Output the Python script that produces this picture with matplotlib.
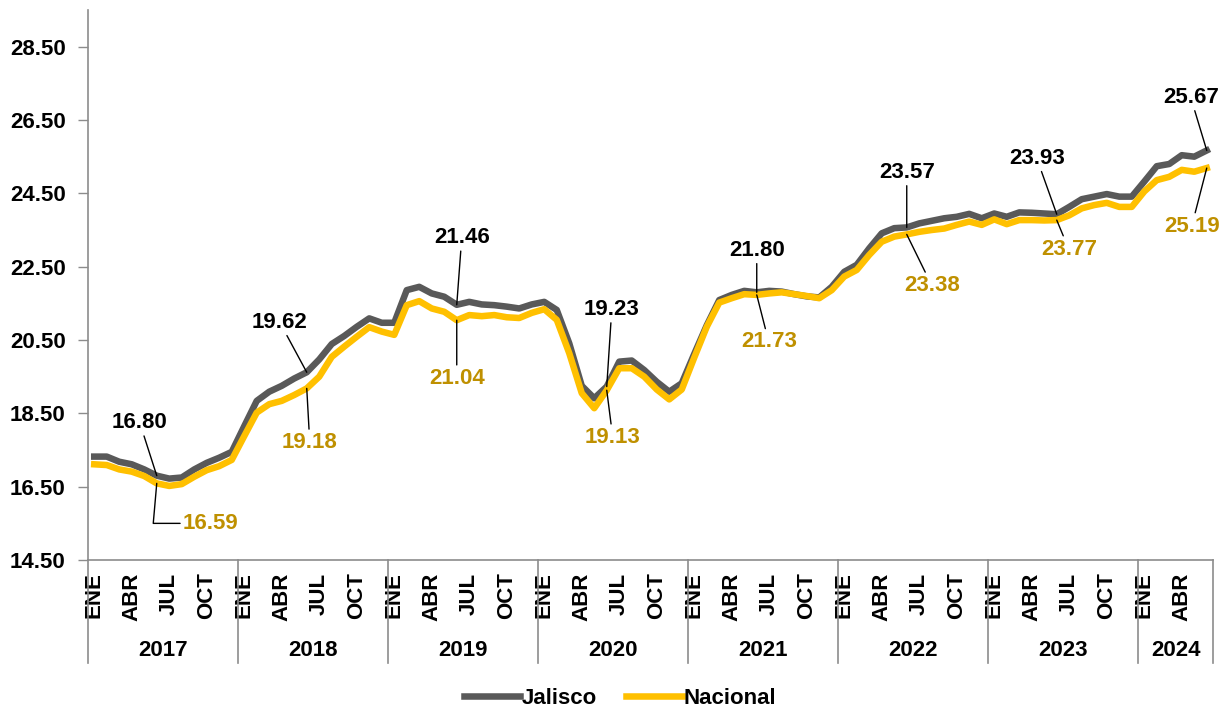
#! /usr/bin/env python3

import sys

import numpy as np
import matplotlib
matplotlib.use('Agg')
import matplotlib.pyplot as plt
import matplotlib.transforms as mtransforms

plt.rcParams['font.family'] = ['Liberation Sans', 'DejaVu Sans']
plt.rcParams['font.weight'] = 'bold'

# monthly series, ENE 2017 .. JUN 2024
years = ['2017', '2018', '2019', '2020', '2021', '2022', '2023', '2024']
month_names = ['ENE', 'ABR', 'JUL', 'OCT']

jalisco = [
	17.32, 17.32, 17.18, 17.11, 16.97, 16.80, 16.72, 16.75, 16.97, 17.15, 17.29, 17.45,
	18.15, 18.84, 19.09, 19.25, 19.45, 19.62, 19.97, 20.39, 20.61, 20.86, 21.09, 20.97,
	20.97, 21.86, 21.95, 21.77, 21.68, 21.46, 21.54, 21.47, 21.45, 21.41, 21.36, 21.47,
	21.54, 21.32, 20.41, 19.25, 18.91, 19.23, 19.91, 19.94, 19.68, 19.36, 19.09, 19.32,
	20.12, 20.90, 21.59, 21.73, 21.84, 21.80, 21.84, 21.82, 21.75, 21.69, 21.66, 21.95,
	22.36, 22.55, 23.00, 23.41, 23.55, 23.57, 23.68, 23.75, 23.82, 23.86, 23.94, 23.82,
	23.95, 23.86, 23.98, 23.97, 23.95, 23.93, 24.13, 24.34, 24.41, 24.48, 24.41, 24.41,
	24.82, 25.24, 25.30, 25.54, 25.50, 25.67,
]

nacional = [
	17.11, 17.09, 16.97, 16.91, 16.79, 16.59, 16.52, 16.57, 16.77, 16.95, 17.06, 17.23,
	17.88, 18.52, 18.75, 18.84, 19.00, 19.18, 19.50, 20.04, 20.32, 20.59, 20.85, 20.73,
	20.64, 21.45, 21.56, 21.36, 21.27, 21.04, 21.18, 21.15, 21.18, 21.12, 21.10, 21.24,
	21.34, 21.05, 20.14, 19.05, 18.64, 19.13, 19.73, 19.73, 19.50, 19.15, 18.88, 19.15,
	20.02, 20.86, 21.52, 21.64, 21.75, 21.73, 21.77, 21.80, 21.75, 21.70, 21.64, 21.86,
	22.23, 22.41, 22.82, 23.18, 23.32, 23.38, 23.45, 23.50, 23.54, 23.64, 23.73, 23.64,
	23.79, 23.66, 23.77, 23.77, 23.76, 23.77, 23.90, 24.09, 24.18, 24.24, 24.13, 24.13,
	24.55, 24.86, 24.95, 25.14, 25.09, 25.19,
]

# labelled points (june of each year) and label offsets in pixels
label_idx = [5, 17, 29, 41, 53, 65, 77, 89]
jal_offsets = [(-17, 53), (-27, 50), (5, 67), (5, 77), (0, 42), (0, 55), (-20, 56), (-16, 53)]
nac_offsets = [(54, -40), (3, -54), (0, -58), (6, -47), (12, -47), (25, -51), (12, -29), (-15, -58)]

GRAY = '#595959'
YELLOW = '#FFC000'
GOLD = '#BF9000'
AXIS = '#8C8C8C'
FS = 16


def main (argv):

	n = len(jalisco)
	x = np.arange(n)

	fig = plt.figure(figsize=(12.31, 7.11), dpi=100)
	ax = fig.add_axes([88 / 1231, 151 / 711, 1125 / 1231, 550 / 711])

	ax.plot(x, jalisco, color=GRAY, lw=4.7, solid_joinstyle='round', label='Jalisco')
	ax.plot(x, nacional, color=YELLOW, lw=4.7, solid_joinstyle='round', label='Nacional')

	ax.set_xlim(-0.5, n - 0.5)
	ax.set_ylim(14.5, 29.5)
	ax.set_yticks(np.arange(14.5, 29.0, 2.0))
	ax.set_yticklabels(['%.2f' % v for v in np.arange(14.5, 29.0, 2.0)],
		fontsize=FS, fontweight='bold')
	ax.tick_params(axis='y', length=7, width=1, color=AXIS, pad=9)

	# month ticks
	ticks = [m for m in range(n) if m % 3 == 0]
	ax.set_xticks(ticks)
	ax.set_xticklabels([month_names[(m % 12) // 3] for m in ticks],
		rotation=90, fontsize=FS, fontweight='bold')
	ax.tick_params(axis='x', length=0, pad=9)

	for s in ['top', 'right']:
		ax.spines[s].set_visible(False)
	for s in ['left', 'bottom']:
		ax.spines[s].set_color(AXIS)
		ax.spines[s].set_linewidth(1.2)

	# year groups below the axis
	trans = mtransforms.blended_transform_factory(ax.transData, ax.transAxes)
	bounds = [0] + [12 * (k + 1) for k in range(len(years) - 1)] + [n]
	for b in bounds:
		ax.plot([b - 0.5, b - 0.5], [0, -103 / 550], color=AXIS, lw=1.2,
			transform=trans, clip_on=False)
	for k, yr in enumerate(years):
		mid = (bounds[k] + bounds[k + 1]) / 2 - 0.5
		ax.text(mid, -90 / 550, yr, transform=trans, ha='center', va='center',
			fontsize=FS, fontweight='bold')

	# data labels
	for k, i in enumerate(label_idx):
		ax.annotate('%.2f' % jalisco[i], xy=(i, jalisco[i]), xytext=jal_offsets[k],
			textcoords='offset pixels', ha='center', va='center',
			fontsize=FS, fontweight='bold', color='black',
			arrowprops=dict(arrowstyle='-', color='black', lw=1, shrinkA=0, shrinkB=0))
		if k == 0:
			props = dict(arrowstyle='-', color='black', lw=1, shrinkA=0, shrinkB=0,
				relpos=(0, 0.5), connectionstyle='angle,angleA=0,angleB=85,rad=0')
		else:
			props = dict(arrowstyle='-', color='black', lw=1, shrinkA=0, shrinkB=0)
		ax.annotate('%.2f' % nacional[i], xy=(i, nacional[i]), xytext=nac_offsets[k],
			textcoords='offset pixels', ha='center', va='center',
			fontsize=FS, fontweight='bold', color=GOLD, arrowprops=props)

	fig.legend(loc='center', bbox_to_anchor=(0.504, 1 - 698 / 711), ncol=2,
		frameon=False, handlelength=2.5, handletextpad=0.1, columnspacing=1.3,
		prop={'size': FS, 'weight': 'bold'})

	fig.savefig('out.png', dpi=100)
	return 0


if __name__ == "__main__":
	main(sys.argv[1:])
